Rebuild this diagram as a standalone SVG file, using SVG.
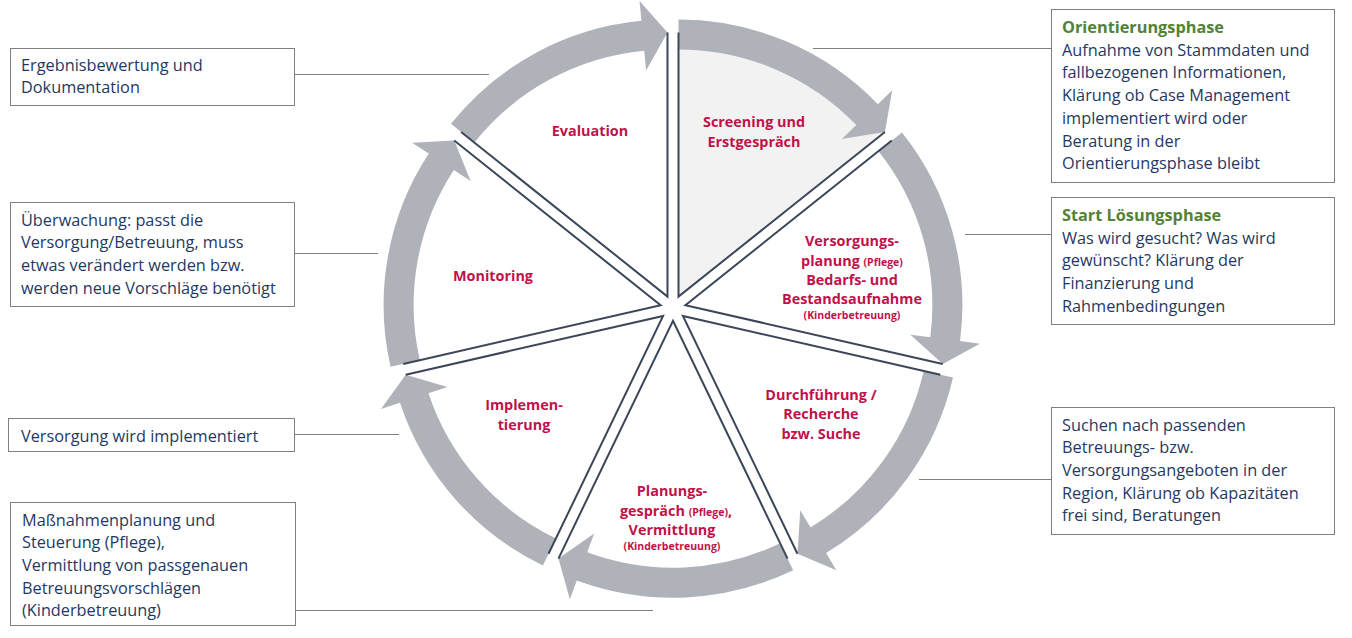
<svg xmlns="http://www.w3.org/2000/svg" width="1352" height="638" viewBox="0 0 1352 638">
<style>
.ring{fill:#afb2b9;stroke:none}
.sec{fill:#ffffff;stroke:none}
.sec.hl{fill:#f2f2f2}
.edge{fill:none;stroke:#3b4759;stroke-width:2;stroke-linejoin:miter}
.lbl{font-family:"Open Sans","Liberation Sans",sans-serif;font-weight:700;font-size:14.4px;fill:#c0124a;text-anchor:middle}
.sm{font-size:10.5px}
.box{fill:#ffffff;stroke:#808080;stroke-width:1}
.txt{font-family:"Open Sans","Liberation Sans",sans-serif;font-size:16.3px;fill:#1f3864}
.ttl{font-weight:700;fill:#548235}
.lead{stroke:#808080;stroke-width:1;fill:none}
</style>
<rect width="1352" height="638" fill="#ffffff"/>

<g id="sector-screening">
<path class="sec hl" d="M678.51,296.56 L678.51,32.56 A264,264 0 0 1 884.91,131.96 Z"/>
<path class="ring" d="M678.51,19.56 A277,277 0 0 1 877.86,104.24 L892.26,90.35 L884.91,131.96 L841.88,138.95 L856.27,125.07 A247,247 0 0 0 678.51,49.56 Z"/>
<text class="lbl" x="754" y="127">Screening und</text>
<text class="lbl" x="754" y="147">Erstgespräch</text>
</g>

<g id="sector-versorgungsplanung">
<path class="sec" d="M685.38,305.17 L891.78,140.57 A264,264 0 0 1 942.76,363.92 Z"/>
<path class="ring" d="M901.95,132.46 A277,277 0 0 1 960.04,341.12 L979.87,343.71 L942.76,363.92 L910.46,334.63 L930.29,337.23 A247,247 0 0 0 878.49,151.17 Z"/>
<text class="lbl" x="852" y="246">Versorgungs-</text>
<text class="lbl" x="852" y="266">planung <tspan class="sm">(Pflege)</tspan></text>
<text class="lbl" x="852" y="285">Bedarfs- und</text>
<text class="lbl" x="852" y="304">Bestandsaufnahme</text>
<text class="lbl sm" x="852" y="319">(Kinderbetreuung)</text>
</g>

<g id="sector-durchfuehrung">
<path class="sec" d="M682.93,315.92 L940.31,374.67 A264,264 0 0 1 797.47,553.78 Z"/>
<path class="ring" d="M952.99,377.56 A277,277 0 0 1 826.07,553.07 L836.40,570.20 L797.47,553.78 L800.23,510.27 L810.57,527.39 A247,247 0 0 0 923.74,370.88 Z"/>
<text class="lbl" x="821" y="400">Durchführung /</text>
<text class="lbl" x="821" y="419">Recherche</text>
<text class="lbl" x="821" y="439">bzw. Suche</text>
</g>

<g id="sector-planungsgespraech">
<path class="sec" d="M673,320.7 L787.54,558.56 A264,264 0 0 1 558.46,558.56 Z"/>
<path class="ring" d="M793.18,570.27 A277,277 0 0 1 576.83,580.48 L569.89,599.23 L558.46,558.56 L594.19,533.59 L587.25,552.34 A247,247 0 0 0 780.17,543.24 Z"/>
<text class="lbl" x="672" y="496">Planungs-</text>
<text class="lbl" x="676" y="516">gespräch <tspan class="sm">(Pflege)</tspan>,</text>
<text class="lbl" x="672" y="535">Vermittlung</text>
<text class="lbl sm" x="672" y="550">(Kinderbetreuung)</text>
</g>

<g id="sector-implementierung">
<path class="sec" d="M663.07,315.92 L548.53,553.78 A264,264 0 0 1 405.69,374.67 Z"/>
<path class="ring" d="M542.89,565.49 A277,277 0 0 1 400.01,402.70 L381.02,408.97 L405.69,374.67 L447.49,387.04 L428.50,393.30 A247,247 0 0 0 555.90,538.46 Z"/>
<text class="lbl" x="524" y="410">Implemen-</text>
<text class="lbl" x="524" y="430">tierung</text>
</g>

<g id="sector-monitoring">
<path class="sec" d="M660.62,305.17 L403.24,363.92 A264,264 0 0 1 454.22,140.57 Z"/>
<path class="ring" d="M390.56,366.81 A277,277 0 0 1 428.76,153.61 L412.02,142.67 L454.22,140.57 L470.61,180.97 L453.87,170.03 A247,247 0 0 0 419.81,360.13 Z"/>
<text class="lbl" x="493" y="281">Monitoring</text>
</g>

<g id="sector-evaluation">
<path class="sec" d="M667.49,296.56 L461.09,131.96 A264,264 0 0 1 667.49,32.56 Z"/>
<path class="ring" d="M450.92,123.85 A277,277 0 0 1 641.42,20.79 L639.54,0.88 L667.49,32.56 L646.13,70.57 L644.24,50.66 A247,247 0 0 0 474.38,142.56 Z"/>
<text class="lbl" x="590" y="136">Evaluation</text>
</g>

<g id="dividers">
<path class="edge" d="M678.51,32.56 L678.51,296.56 L884.91,131.96"/>
<path class="edge" d="M891.78,140.57 L685.38,305.17 L942.76,363.92"/>
<path class="edge" d="M940.31,374.67 L682.93,315.92 L797.47,553.78"/>
<path class="edge" d="M787.54,558.56 L673,320.7 L558.46,558.56"/>
<path class="edge" d="M548.53,553.78 L663.07,315.92 L405.69,374.67"/>
<path class="edge" d="M403.24,363.92 L660.62,305.17 L454.22,140.57"/>
<path class="edge" d="M461.09,131.96 L667.49,296.56 L667.49,32.56"/>
</g>

<g id="connectors">
<line class="lead" x1="813" y1="48.5" x2="1051" y2="48.5"/>
<line class="lead" x1="965" y1="234.5" x2="1051" y2="234.5"/>
<line class="lead" x1="919" y1="479.5" x2="1051" y2="479.5"/>
<line class="lead" x1="294" y1="74.5" x2="489" y2="74.5"/>
<line class="lead" x1="294" y1="253.5" x2="378" y2="253.5"/>
<line class="lead" x1="294" y1="434.5" x2="399" y2="434.5"/>
<line class="lead" x1="295" y1="610.5" x2="653" y2="610.5"/>
</g>

<g id="note-orientierung">
<rect class="box" x="1051.5" y="9.5" width="283" height="173"/>
<text class="txt ttl" x="1062" y="33">Orientierungsphase</text>
<text class="txt" x="1062" y="55.7">Aufnahme von Stammdaten und</text>
<text class="txt" x="1062" y="78.4">fallbezogenen Informationen,</text>
<text class="txt" x="1062" y="101.1">Klärung ob Case Management</text>
<text class="txt" x="1062" y="123.8">implementiert wird oder</text>
<text class="txt" x="1062" y="146.5">Beratung in der</text>
<text class="txt" x="1062" y="169.2">Orientierungsphase bleibt</text>
</g>

<g id="note-loesung">
<rect class="box" x="1051.5" y="197.5" width="283" height="127"/>
<text class="txt ttl" x="1062" y="221">Start Lösungsphase</text>
<text class="txt" x="1062" y="243.7">Was wird gesucht? Was wird</text>
<text class="txt" x="1062" y="266.4">gewünscht? Klärung der</text>
<text class="txt" x="1062" y="289.1">Finanzierung und</text>
<text class="txt" x="1062" y="311.8">Rahmenbedingungen</text>
</g>

<g id="note-suche">
<rect class="box" x="1051.5" y="407.5" width="283" height="127"/>
<text class="txt" x="1062" y="430.5">Suchen nach passenden</text>
<text class="txt" x="1062" y="453.2">Betreuungs- bzw.</text>
<text class="txt" x="1062" y="475.9">Versorgungsangeboten in der</text>
<text class="txt" x="1062" y="498.6">Region, Klärung ob Kapazitäten</text>
<text class="txt" x="1062" y="521.3">frei sind, Beratungen</text>
</g>

<g id="note-ergebnis">
<rect class="box" x="10.5" y="48.5" width="284" height="57"/>
<text class="txt" x="21" y="70.5">Ergebnisbewertung und</text>
<text class="txt" x="21" y="93.2">Dokumentation</text>
</g>

<g id="note-ueberwachung">
<rect class="box" x="10.5" y="202.5" width="284" height="104"/>
<text class="txt" x="21" y="225.5">Überwachung: passt die</text>
<text class="txt" x="21" y="248.2">Versorgung/Betreuung, muss</text>
<text class="txt" x="21" y="270.9">etwas verändert werden bzw.</text>
<text class="txt" x="21" y="293.6">werden neue Vorschläge benötigt</text>
</g>

<g id="note-implementiert">
<rect class="box" x="8.5" y="418.5" width="286" height="33"/>
<text class="txt" x="21" y="441.5">Versorgung wird implementiert</text>
</g>

<g id="note-massnahmen">
<rect class="box" x="10.5" y="502.5" width="285" height="123"/>
<text class="txt" x="22" y="525.5">Maßnahmenplanung und</text>
<text class="txt" x="22" y="548.2">Steuerung (Pflege),</text>
<text class="txt" x="22" y="570.9">Vermittlung von passgenauen</text>
<text class="txt" x="22" y="593.6">Betreuungsvorschlägen</text>
<text class="txt" x="22" y="616.3">(Kinderbetreuung)</text>
</g>
</svg>
